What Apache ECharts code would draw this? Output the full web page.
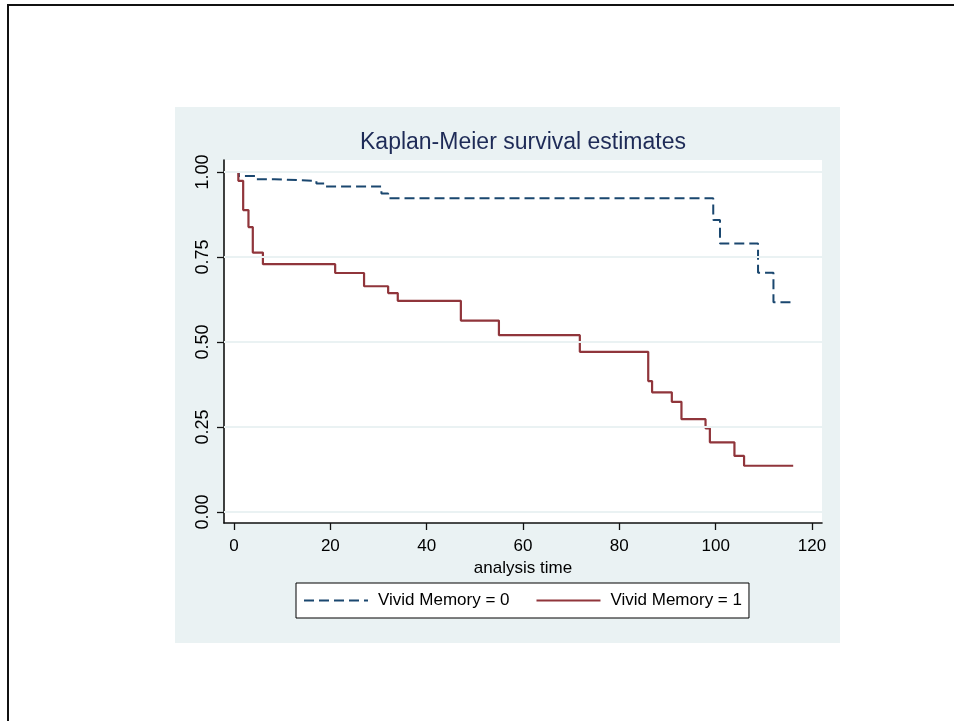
<!DOCTYPE html>
<html>
<head>
<meta charset="utf-8">
<script src="https://cdn.jsdelivr.net/npm/echarts@6/dist/echarts.min.js"></script>
<style>
html,body{margin:0;padding:0;background:#fff;}
#chart{width:954px;height:721px;}
</style>
</head>
<body>
<div id="chart"></div>
<script>
// ---- data ----
const titleText = 'Kaplan-Meier survival estimates';
const xAxisName = 'analysis time';
const seriesNames = ['Vivid Memory = 0', 'Vivid Memory = 1'];
// Kaplan-Meier steps: [time, survival after time]
const vivid0 = [[0,1],[1,0.988],[4.5,0.979],[8.4,0.974],[17.1,0.966],[18.8,0.957],[30.6,0.937],[32,0.923],[99.5,0.859],[100.9,0.79],[108.8,0.704],[112,0.617],[115.8,0.617]];
const vivid1 = [[0,1],[0.9,0.974],[1.9,0.888],[3,0.838],[3.9,0.763],[6,0.729],[21,0.703],[27,0.664],[32,0.644],[34,0.621],[47.1,0.563],[55,0.52],[71.8,0.471],[86,0.385],[86.8,0.352],[90.9,0.324],[92.9,0.273],[97.9,0.246],[98.8,0.205],[103.9,0.165],[105.9,0.136],[116.1,0.136]];
const xTicks = [0,20,40,60,80,100,120];
const yTicks = [0,0.25,0.5,0.75,1];

const FONT = '"Liberation Sans", Arial, sans-serif';
const chart = echarts.init(document.getElementById('chart'), null, {renderer:'canvas'});
const option = {
  animation: false,
  backgroundColor: '#ffffff',
  textStyle: {fontFamily: FONT},
  graphic: {elements: [
    {type:'rect', z:-20, silent:true, shape:{x:175,y:107,width:665,height:536}, style:{fill:'#eaf2f3'}},
    {type:'rect', z:-19, silent:true, shape:{x:224,y:160,width:598,height:363}, style:{fill:'#ffffff'}},
    {type:'line', z:-18, silent:true, shape:{x1:7,y1:5,x2:954,y2:5}, style:{stroke:'#111',lineWidth:2}},
    {type:'line', z:-18, silent:true, shape:{x1:8,y1:4,x2:8,y2:721}, style:{stroke:'#111',lineWidth:2}}
  ]},
  title: {
    text: titleText, left: 360, top: 131, padding: 0,
    textStyle: {fontFamily: FONT, fontSize: 23, fontWeight: 'normal', color: '#1e2b57'}
  },
  legend: {
    data: seriesNames,
    left: 296, top: 583,
    orient: 'horizontal',
    backgroundColor: '#ffffff', borderColor: '#000', borderWidth: 1,
    padding: [9, 7, 9, 7],
    itemWidth: 64, itemHeight: 14, itemGap: 26,
    itemStyle: {opacity: 0},
    textStyle: {fontFamily: FONT, fontSize: 17, color: '#000', padding: [0,0,0,5]}
  },
  grid: {left: 224, right: 132, top: 160, bottom: 198, containLabel: false},
  xAxis: {
    type: 'value', min: -2.08, max: 122.08,
    name: xAxisName, nameLocation: 'middle', nameGap: 29,
    nameTextStyle: {fontFamily: FONT, fontSize: 17, color: '#000'},
    axisLine: {show: true, onZero: false, lineStyle: {color: '#111', width: 1.6}},
    axisTick: {show: true, length: 7, customValues: xTicks, lineStyle: {color: '#111', width: 1.3}},
    axisLabel: {customValues: xTicks, margin: 15, fontFamily: FONT, fontSize: 17, color: '#000'},
    splitLine: {show: false}
  },
  yAxis: {
    type: 'value', min: -0.0324, max: 1.0353,
    axisLine: {show: true, onZero: false, lineStyle: {color: '#111', width: 1.6}},
    axisTick: {show: true, length: 7, customValues: yTicks, lineStyle: {color: '#111', width: 1.3}},
    axisLabel: {customValues: yTicks, rotate: 90, margin: 12, fontFamily: FONT, fontSize: 18, color: '#000',
      formatter: v => v.toFixed(2)},
    splitLine: {show: false}
  },
  series: [
    {
      name: 'grid', type: 'line', data: [], z: 1, silent: true,
      markLine: {
        silent: true, symbol: 'none', animation: false,
        label: {show: false},
        lineStyle: {color: '#eaf2f3', width: 2, type: 'solid'},
        data: yTicks.map(v => ({yAxis: v}))
      }
    },
    {
      name: seriesNames[0], type: 'line', step: 'end', data: vivid0,
      symbol: 'none', showSymbol: false, z: 3,
      lineStyle: {color: '#1a476f', width: 2, type: [10, 5]},
      itemStyle: {color: '#1a476f'}
    },
    {
      name: seriesNames[1], type: 'line', step: 'end', data: vivid1,
      symbol: 'none', showSymbol: false, z: 4,
      lineStyle: {color: '#90353b', width: 2.2, type: 'solid'},
      itemStyle: {color: '#90353b'}
    }
  ]
};
chart.setOption(option);
</script>
</body>
</html>
